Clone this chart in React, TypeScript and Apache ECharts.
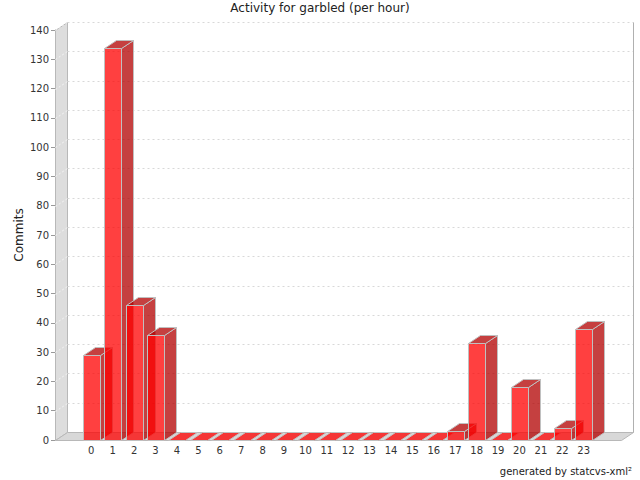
import React, { useEffect, useRef } from "react";
import * as echarts from "echarts";

const hours = ["0","1","2","3","4","5","6","7","8","9","10","11","12","13","14","15","16","17","18","19","20","21","22","23"];
const commits = [29, 134, 46, 36, 0, 0, 0, 0, 0, 0, 0, 0, 0, 0, 0, 0, 0, 3, 33, 0, 18, 0, 4, 38];
const yTicks = [0, 10, 20, 30, 40, 50, 60, 70, 80, 90, 100, 110, 120, 130, 140];

const DX = 12;
const DY = -8;
const FONT = "DejaVu Sans";

export default function App() {
  const ref = useRef<HTMLDivElement>(null);
  useEffect(() => {
    if (!ref.current) return;
    const chart = echarts.init(ref.current, null, { renderer: "svg" });
    const r = (n: number) => Math.round(n) + 0.5;

    const wallsRender = (params: any, api: any) => {
      const a = api.coord([0, 0]);
      const b = api.coord([0, 140]);
      const c = api.coord([1, 0]);
      const lx = r(a[0]);
      const by = r(a[1]);
      const ty = r(b[1]);
      const rx = r(c[0]);
      const children: any[] = [];
      children.push({
        type: "rect",
        shape: { x: lx + DX, y: ty + DY, width: rx - lx, height: by - ty },
        style: { fill: "#ffffff", stroke: null },
      });
      children.push({
        type: "polygon",
        shape: { points: [[lx, by], [lx, ty], [lx + DX, ty + DY], [lx + DX, by + DY]] },
        style: { fill: "#dddddd", stroke: "#b8b8b8", lineWidth: 1 },
      });
      children.push({
        type: "polygon",
        shape: { points: [[lx, by], [lx + DX, by + DY], [rx + DX, by + DY], [rx, by]] },
        style: { fill: "#d8d8d8", stroke: "#b8b8b8", lineWidth: 1 },
      });
      yTicks.forEach((t) => {
        const p = api.coord([0, t]);
        const y = r(p[1]);
        if (t > 0) {
          children.push({
            type: "line",
            shape: { x1: lx + DX, y1: y + DY, x2: rx + DX, y2: y + DY },
            style: { stroke: "#d8d8d8", lineWidth: 1, lineDash: [2, 3] },
          });
          children.push({
            type: "line",
            shape: { x1: lx, y1: y, x2: lx + DX, y2: y + DY },
            style: { stroke: "#f4f4f4", lineWidth: 1, lineDash: [2, 2] },
          });
        }
      });
      children.push({
        type: "line",
        shape: { x1: rx + DX, y1: ty + DY, x2: rx + DX, y2: by + DY },
        style: { stroke: "#b0b0b0", lineWidth: 1 },
      });
      return { type: "group", children };
    };

    const barsRender = (params: any, api: any) => {
      const idx = api.value(0);
      const v = api.value(1);
      const top = api.coord([idx, v]);
      const bot = api.coord([idx, 0]);
      const w = Math.round(api.size([1, 0])[0] * 0.795);
      const x0 = r(top[0] - w / 2);
      const x1 = x0 + w;
      const yT = r(top[1]);
      const yB = r(bot[1]);
      const edge = "#c0c0c0";
      const children: any[] = [];
      if (yB > yT) {
        children.push({
          type: "polygon",
          shape: { points: [[x1, yT], [x1 + DX, yT + DY], [x1 + DX, yB + DY], [x1, yB]] },
          style: { fill: "rgba(178,0,0,0.75)", stroke: edge, lineWidth: 1 },
        });
        children.push({
          type: "rect",
          shape: { x: x0, y: yT, width: w, height: yB - yT },
          style: { fill: "rgba(255,0,0,0.75)", stroke: edge, lineWidth: 1 },
        });
      }
      children.push({
        type: "polygon",
        shape: { points: [[x0, yT], [x0 + DX, yT + DY], [x1 + DX, yT + DY], [x1, yT]] },
        style: { fill: yB > yT ? "rgba(178,0,0,0.75)" : "rgba(255,0,0,0.75)", stroke: edge, lineWidth: 1 },
      });
      return { type: "group", children };
    };

    chart.setOption({
      animation: false,
      backgroundColor: "#ffffff",
      title: {
        text: "Activity for garbled (per hour)",
        left: "center",
        top: -3,
        textStyle: { fontFamily: FONT, fontSize: 12, fontWeight: "normal", color: "#222" },
      },
      graphic: [
        {
          type: "text",
          right: 8,
          bottom: 4,
          style: { text: "generated by statcvs-xml²", font: `10px ${FONT}`, fill: "#222" },
        },
      ],
      grid: [
        { left: 55, top: 30, width: 566, height: 410 },
        { left: 80.6, top: 30, width: 513.8, height: 410 },
      ],
      xAxis: [
        { gridIndex: 0, type: "value", min: 0, max: 1, show: false },
        {
          gridIndex: 1,
          type: "category",
          data: hours,
          axisLine: { show: false },
          axisTick: { show: false },
          axisLabel: { fontFamily: FONT, fontSize: 10, color: "#333", margin: 5 },
        },
      ],
      yAxis: [
        {
          gridIndex: 0,
          type: "value",
          min: 0,
          max: 140,
          interval: 10,
          name: "Commits",
          nameLocation: "middle",
          nameGap: 30,
          nameRotate: 90,
          nameMoveOverlap: false,
          nameTextStyle: { fontFamily: FONT, fontSize: 12, color: "#222" },
          axisLine: { show: true, lineStyle: { color: "#999" } },
          axisTick: { show: true, length: 4, lineStyle: { color: "#999" } },
          axisLabel: { fontFamily: FONT, fontSize: 10, color: "#333", margin: 6 },
          splitLine: { show: false },
        },
        { gridIndex: 1, type: "value", min: 0, max: 140, show: false },
      ],
      series: [
        {
          type: "custom",
          xAxisIndex: 0,
          yAxisIndex: 0,
          z: 1,
          silent: true,
          data: [[0, 0]],
          renderItem: wallsRender,
        },
        {
          type: "custom",
          xAxisIndex: 1,
          yAxisIndex: 1,
          z: 3,
          data: commits.map((v, i) => [i, v]),
          renderItem: barsRender,
        },
      ],
    });
    return () => chart.dispose();
  }, []);
  return <div ref={ref} style={{ position: "fixed", left: 0, top: 0, width: 640, height: 480 }} />;
}
